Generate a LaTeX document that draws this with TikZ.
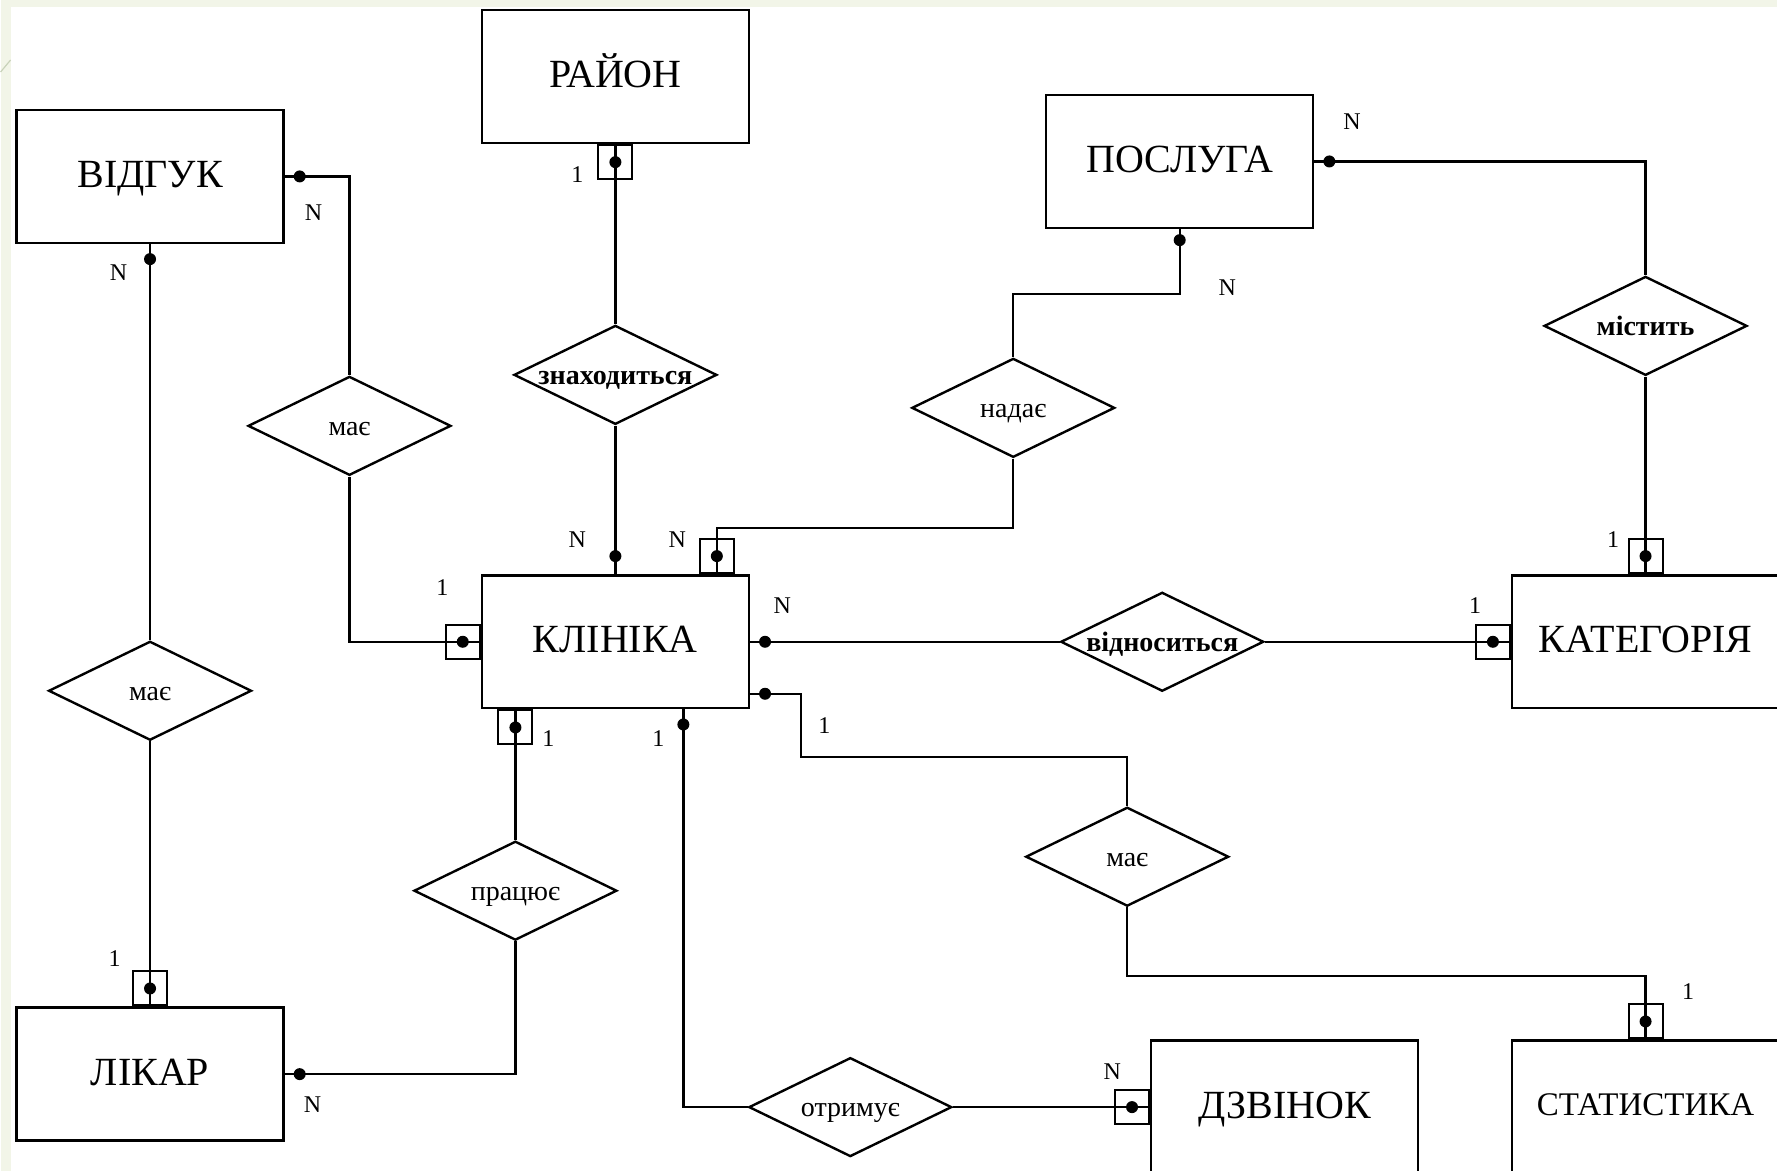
\documentclass[tikz,border=0pt]{standalone}
\usepackage{fontspec}
\setmainfont{Liberation Serif}
\usepackage{xcolor}
\usepackage{tikz}
\usetikzlibrary{positioning, shapes.geometric}

\definecolor{slidebg}{RGB}{242,245,232}
\definecolor{slideline}{RGB}{200,210,185}

\begin{document}
\begin{tikzpicture}[
    x=0.5pt, y=-0.5pt,
    line width=1.2pt,
    entity/.style={rectangle, draw, fill=white, minimum width=133.5pt, minimum height=66.5pt, inner sep=0pt, text height=11.2pt, text depth=0pt, font=\fontsize{20}{24}\selectfont},
    rel/.style={diamond, draw, fill=white, aspect=2, minimum width=101.5pt, minimum height=49.5pt, inner sep=0pt, text height=9.4pt, text depth=0pt, font=\fontsize{14}{16}\selectfont},
    relb/.style={rel, font=\fontsize{14}{16}\selectfont\bfseries},
    mdot/.style={circle, fill, inner sep=0pt, minimum size=6pt},
    mbox/.style={rectangle, draw, line width=1pt, minimum size=17pt, inner sep=0pt, path picture={\fill (path picture bounding box.center) circle (3pt);}},
    card/.style={inner sep=0pt, font=\fontsize{12}{14}\selectfont}
  ]
    % slide background
    \fill[slidebg] (0,0) rectangle (1777,1171);
    \fill[white] (10,7) rectangle (1777,1171);
    \draw[slideline, line width=0.6pt] (0,72) -- (10,60);
    \useasboundingbox (0,0) rectangle (1777,1171);

    % entities
    \node[entity] (vidguk) at (149.5,176.5) {ВІДГУК};
    \node[entity] (rayon) at (615,76.5) {РАЙОН};
    \node[entity] (posluga) at (1179.5,161.5) {ПОСЛУГА};
    \node[entity] (klinika) at (615,642) {КЛІНІКА};
    \node[entity] (kategoria) at (1645.5,642) {КАТЕГОРІЯ};
    \node[entity] (likar) at (149.5,1074.5) {ЛІКАР};
    \node[entity] (dzvinok) at (1284.5,1107.5) {ДЗВІНОК};
    \node[entity, text height=8.4pt, font=\fontsize{16.5}{20}\selectfont] (statystyka) at (1645.5,1107.5) {СТАТИСТИКА};

    % relations
    \node[rel] (maje1) at (349,426) {має};
    \node[rel] (maje2) at (149.5,691) {має};
    \node[relb] (znakh) at (615,375) {знаходиться};
    \node[rel] (nadaje) at (1013,408) {надає};
    \node[relb] (mistyt) at (1645.5,326) {містить};
    \node[relb] (vidnos) at (1162,642) {відноситься};
    \node[rel] (maje3) at (1127,857) {має};
    \node[rel] (pratsyuye) at (515,891) {працює};
    \node[rel] (otrymuye) at (850,1107.5) {отримує};

    % connectors
    \draw (vidguk.east) -| (maje1.north);
    \draw (maje1.south) |- (klinika.west);
    \draw (vidguk.south) -- (maje2.north);
    \draw (maje2.south) -- (likar.north);
    \draw (rayon.south) -- (znakh.north);
    \draw (znakh.south) -- (klinika.north);
    \draw (posluga.south) -- ++(0,65) -| (nadaje.north);
    \draw (nadaje.south) -- ++(0,69.5) -| ([xshift=50.75pt]klinika.north);
    \draw (posluga.east) -| (mistyt.north);
    \draw (mistyt.south) -- (kategoria.north);
    \draw (klinika.east) -- (vidnos.west);
    \draw (vidnos.east) -- (kategoria.west);
    \draw ([yshift=-26pt]klinika.east) -- ++(51,0) -- ++(0,63) -| (maje3.north);
    \draw (maje3.south) -- ++(0,68.5) -| (statystyka.north);
    \draw ([xshift=-50pt]klinika.south) -- (pratsyuye.north);
    \draw (pratsyuye.south) |- (likar.east);
    \draw ([xshift=34pt]klinika.south) |- (otrymuye.west);
    \draw (otrymuye.east) -- (dzvinok.west);

    % many-side dots
    \node[mdot] (d1) at ([xshift=7.5pt]vidguk.east) {};
    \node[mdot] (d2) at ([yshift=-7.5pt]vidguk.south) {};
    \node[mdot] (d3) at ([yshift=9pt]klinika.north) {};
    \node[mdot] (d4) at ([yshift=-5.5pt]posluga.south) {};
    \node[mdot] (d5) at ([xshift=7.5pt]posluga.east) {};
    \node[mdot] (d6) at ([xshift=7.5pt]klinika.east) {};
    \node[mdot] (d7) at ([xshift=7.5pt,yshift=-26pt]klinika.east) {};
    \node[mdot] (d8) at ([xshift=34pt,yshift=-7.5pt]klinika.south) {};
    \node[mdot] (d9) at ([xshift=7.5pt]likar.east) {};

    % one-side boxes
    \node[mbox, anchor=east] (b1) at (klinika.west) {};
    \node[mbox, anchor=south] (b2) at (likar.north) {};
    \node[mbox, anchor=north] (b3) at (rayon.south) {};
    \node[mbox, anchor=south] (b4) at ([xshift=50.75pt]klinika.north) {};
    \node[mbox, anchor=south] (b5) at (kategoria.north) {};
    \node[mbox, anchor=east] (b6) at (kategoria.west) {};
    \node[mbox, anchor=south] (b7) at (statystyka.north) {};
    \node[mbox, anchor=north] (b8) at ([xshift=-50pt]klinika.south) {};
    \node[mbox, anchor=east] (b9) at (dzvinok.west) {};

    % cardinalities
    \node[card] (c1) at (313,213) {N};
    \node[card] (c2) at (118,273) {N};
    \node[card] (c3) at (114,959) {1};
    \node[card] (c4) at (442,588) {1};
    \node[card] (c5) at (577,175) {1};
    \node[card] (c6) at (577,540) {N};
    \node[card] (c7) at (677,540) {N};
    \node[card] (c8) at (1227,288) {N};
    \node[card] (c9) at (1352,122) {N};
    \node[card] (c10) at (1613,540) {1};
    \node[card] (c11) at (782,606) {N};
    \node[card] (c12) at (1475,606) {1};
    \node[card] (c13) at (824,726) {1};
    \node[card] (c14) at (1688,992) {1};
    \node[card] (c15) at (548,739) {1};
    \node[card] (c16) at (312,1105) {N};
    \node[card] (c17) at (658,739) {1};
    \node[card] (c18) at (1112,1072) {N};
  \end{tikzpicture}
\end{document}
